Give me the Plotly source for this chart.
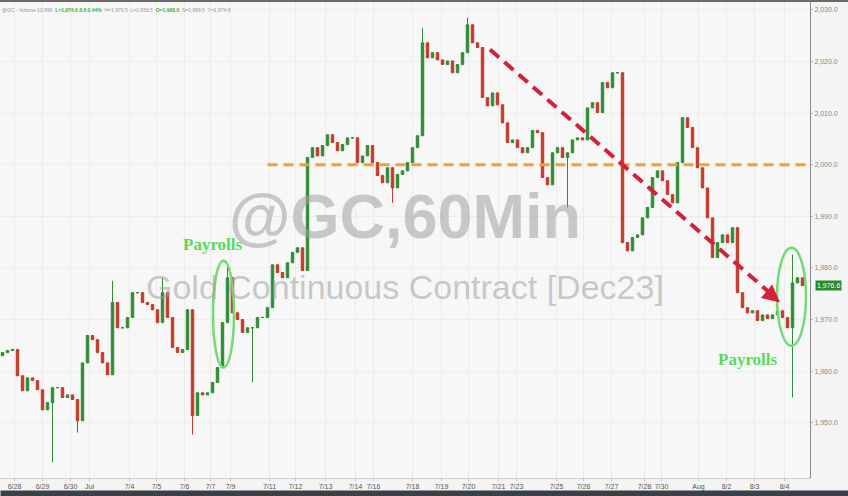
import plotly.graph_objects as go

# hourly closes of GC (Dec23), sampled along the chart, 6/28 -> 8/4
closes = [
    1963.6, 1964.0, 1964.2, 1959.1, 1956.2, 1958.7, 1958.2, 1956.4, 1952.5, 1953.9,
    1956.8, 1956.8, 1954.9, 1955.4, 1954.5, 1950.4, 1961.6, 1966.9, 1966.1, 1963.6,
    1961.6, 1959.3, 1973.3, 1968.4, 1968.4, 1970.4, 1975.2, 1975.2, 1973.3, 1972.9,
    1971.9, 1969.4, 1975.2, 1970.4, 1964.6, 1963.6, 1964.2, 1971.9, 1951.4, 1955.8,
    1955.4, 1955.8, 1957.8, 1960.7, 1969.4, 1978.1, 1971.3, 1970.0, 1967.5, 1968.4,
    1968.4, 1970.4, 1970.4, 1972.3, 1980.6, 1979.1, 1978.1, 1981.0, 1983.0, 1983.9,
    1979.5, 2001.4, 2003.3, 2001.7, 2003.7, 2005.8, 2004.3, 2002.7, 2003.9, 2005.2,
    2005.2, 2000.4, 2001.7, 2003.7, 2000.4, 1997.9, 1996.5, 1999.4, 1995.5, 1998.1,
    1998.8, 2000.4, 2003.3, 2005.6, 2023.6, 2020.7, 2021.7, 2020.3, 2019.4, 2020.1,
    2017.8, 2019.4, 2021.7, 2027.1, 2023.6, 2022.7, 2013.0, 2011.4, 2013.9, 2011.6,
    2008.1, 2004.3, 2004.8, 2003.3, 2002.3, 2003.3, 2006.6, 2006.2, 1997.5, 1996.1,
    2002.3, 2003.3, 2001.4, 2002.3, 2004.8, 2005.2, 2004.8, 2011.0, 2012.0, 2010.1,
    2015.9, 2014.9, 2017.8, 2017.8, 1984.9, 1983.3, 1985.9, 1986.4, 1989.7, 1991.7,
    1997.5, 1998.8, 1996.9, 1994.2, 1992.6, 2000.4, 2009.1, 2007.2, 2003.3, 1999.4,
    1995.5, 1989.7, 1982.0, 1984.9, 1986.4, 1984.9, 1987.8, 1975.2, 1972.3, 1971.3,
    1971.7, 1969.8, 1970.9, 1970.2, 1970.9, 1971.7, 1970.4, 1968.4, 1977.1, 1978.1,
    1976.6,
]
first_open = 1963.0

# long wicks visible on the chart
spike_high_bars = [22, 32, 45, 84, 93, 158]
spike_high_vals = [1977.5, 1978.1, 1980.6, 2026.5, 2028.5, 1982.6]
spike_low_bars = [10, 15, 38, 50, 78, 113, 158]
spike_low_vals = [1942.3, 1948.1, 1947.7, 1957.8, 1992.6, 1991.7, 1954.9]

tick_pos = [2.4, 8, 13.6, 17.4, 25.4, 30.8, 36.4, 41.6, 45.6, 53.4, 58.6, 64.6, 70.6, 74.2,
            82, 87.8, 93.2, 99.2, 102.8, 110.8, 116.2, 121.8, 128.4, 131.8, 139.2, 144.8,
            150.4, 156.4]
tick_text = ["6/28", "6/29", "6/30", "Jul", "7/4", "7/5", "7/6", "7/7", "7/9", "7/11", "7/12",
             "7/13", "7/14", "7/16", "7/18", "7/19", "7/20", "7/21", "7/23", "7/25", "7/26",
             "7/27", "7/28", "7/30", "Aug", "8/2", "8/3", "8/4"]
price_ticks = [1950, 1960, 1970, 1980, 1990, 2000, 2010, 2020, 2030]

resistance = 2000.0
last_price = closes[-1]

opens = [first_open] + closes[:-1]
highs = [max(o, c) for o, c in zip(opens, closes)]
lows = [min(o, c) for o, c in zip(opens, closes)]
for i, v in zip(spike_high_bars, spike_high_vals):
    highs[i] = max(highs[i], v)
for i, v in zip(spike_low_bars, spike_low_vals):
    lows[i] = min(lows[i], v)
bars = list(range(len(closes)))

fig = go.Figure()
fig.add_trace(go.Candlestick(
    x=bars, open=opens, high=highs, low=lows, close=closes,
    increasing=dict(line=dict(color="#2f8c34", width=1), fillcolor="#2f8c34"),
    decreasing=dict(line=dict(color="#c23a2a", width=1), fillcolor="#c23a2a"),
    whiskerwidth=0, showlegend=False, hoverinfo="skip",
))

grey = "rgba(160,160,160,0.55)"
green = "#5ad85a"
shapes = [
    # 2000 resistance
    dict(type="line", xref="x", yref="y", x0=53, x1=161.5, y0=resistance, y1=resistance,
         line=dict(color="#f0a030", width=3, dash="10px,6px")),
    # down trend
    dict(type="line", xref="x", yref="y", x0=97.5, y0=2022.3, x1=154.5, y1=1974.3,
         line=dict(color="#d42038", width=4, dash="12px,7px")),
    # payroll ellipses
    dict(type="circle", xref="x", yref="y", x0=42.1, x1=46.3, y0=1960.7, y1=1981.4,
         line=dict(color="#72dc72", width=2.5)),
    dict(type="circle", xref="x", yref="y", x0=154.9, x1=160.7, y0=1964.9, y1=1983.9,
         line=dict(color="#72dc72", width=2.5)),
    # dark strip on top of the terminal window
    dict(type="rect", xref="paper", yref="paper", x0=0, x1=1.05, y0=0.996, y1=1.0,
         fillcolor="#6a6a6a", line=dict(width=0)),
]

annotations = [
    dict(text="<b>@GC,60Min</b>", xref="paper", yref="paper", x=0.5, y=0.548,
         showarrow=False, font=dict(family="Liberation Sans", size=63, color=grey)),
    dict(text="Gold Continuous Contract [Dec23]", xref="paper", yref="paper", x=0.5, y=0.40,
         showarrow=False, font=dict(family="Liberation Sans", size=34, color=grey)),
    dict(text="<b>Payrolls</b>", x=42.1, y=1984.5, showarrow=False,
         font=dict(family="Liberation Serif", size=17, color=green)),
    dict(text="<b>Payrolls</b>", x=149.1, y=1962.2, showarrow=False,
         font=dict(family="Liberation Serif", size=17, color=green)),
    # arrow head of the trend line
    dict(text="", x=155.5, y=1973.3, ax=-12, ay=-10, showarrow=True, arrowhead=2,
         arrowsize=1, arrowwidth=3.5, arrowcolor="#d42038", standoff=0),
    # last price tag
    dict(text=f"{last_price:,.1f}", xref="paper", yref="y", x=1.006, y=last_price,
         xanchor="left", showarrow=False, bgcolor="#2a8a30", borderpad=1,
         font=dict(family="Liberation Sans", size=7, color="white")),
    # header line
    dict(text="@GC - Volume 13,996  <span style='color:#3cb43c'><b>L=1,976.6 8.6 0.44%</b></span>"
              "  H=1,979.5  L=1,956.5  <span style='color:#3cb43c'><b>O=1,968.0</b></span>"
              "  S=1,969.5  Y=1,974.8",
         xref="paper", yref="paper", x=0.0, y=0.99, xanchor="left", yanchor="top",
         showarrow=False, font=dict(family="Liberation Sans", size=5, color="#9a9a9a")),
    # dark bar at the bottom of the terminal window
    dict(text="&nbsp;", xref="paper", yref="paper", x=0, y=0, xanchor="left", yanchor="top",
         yshift=-12, width=848, height=8, showarrow=False, bgcolor="#3a4046",
         borderpad=0, font=dict(size=4, color="#3a4046")),
]

fig.update_layout(
    width=848, height=496,
    margin=dict(l=0, r=38, t=0, b=18),
    paper_bgcolor="#f4f4f4", plot_bgcolor="#f7f7f7",
    shapes=shapes, annotations=annotations,
    showlegend=False,
    xaxis=dict(range=[-0.5, 161.5], rangeslider=dict(visible=False),
               tickvals=tick_pos, ticktext=tick_text, tickangle=0,
               tickfont=dict(family="Liberation Sans", size=7, color="#555"),
               ticks="outside", ticklen=2, tickcolor="#bbb",
               showgrid=True, gridcolor="#ebebeb", gridwidth=1,
               showline=True, linecolor="#cfcfcf", zeroline=False),
    yaxis=dict(side="right", range=[1939.3, 2031.9], tickvals=price_ticks,
               tickformat=",.1f", tickfont=dict(family="Liberation Sans", size=7, color="#888"),
               showgrid=True, gridcolor="#ededed", gridwidth=1,
               showline=True, linecolor="#8a8a8a", linewidth=1, zeroline=False,
               ticks="outside", ticklen=2, tickcolor="#bbb"),
)

# the page's default body margin would shift the chart by 8px
fig.write_html("out.html", config={"displayModeBar": False},
               post_script="document.body.style.margin = '0';")
